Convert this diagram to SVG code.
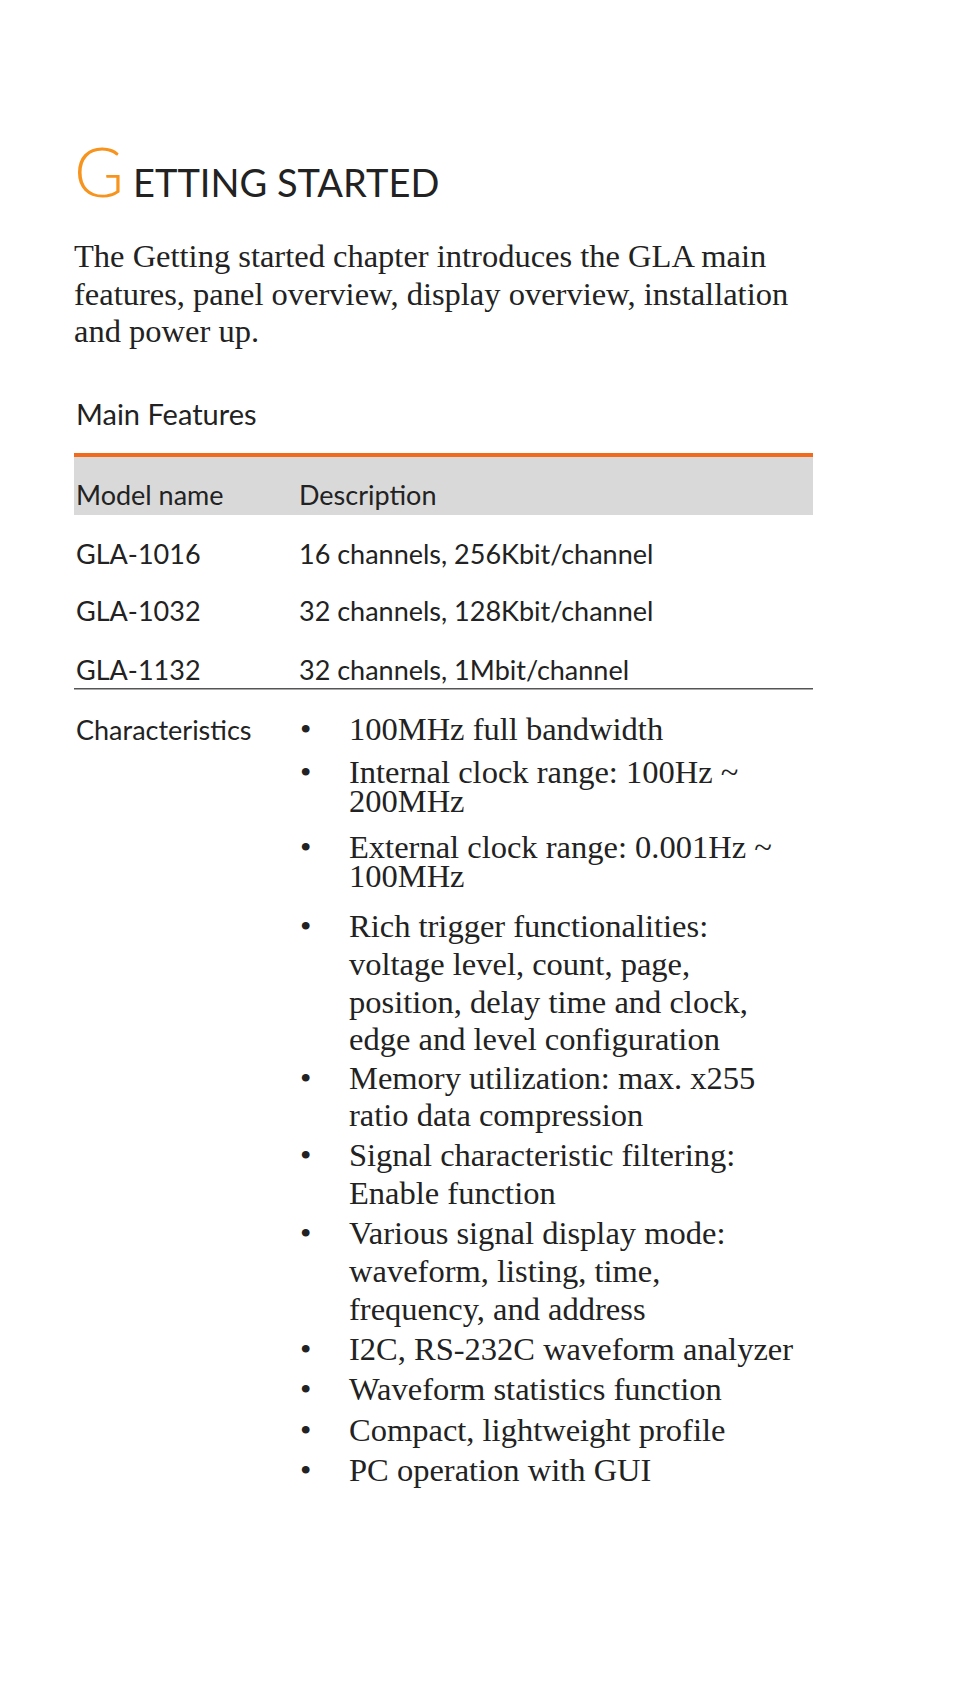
<svg xmlns="http://www.w3.org/2000/svg" width="954" height="1686" viewBox="0 0 954 1686">
<style>
.s{font-family:"Lato","Open Sans",sans-serif;fill:#222;font-size:27px}
.r{font-family:"Liberation Serif","DejaVu Serif",serif;fill:#222;font-size:32.5px}
</style>
<rect width="954" height="1686" fill="#fff"/>
<g id="title">
<text x="74" y="197" font-family="Lato,sans-serif" font-size="68" fill="#f7941d" font-weight="300">G</text>
<text x="133" y="197" class="s" style="font-size:38px">ETTING STARTED</text>
</g>
<text class="r"><tspan x="74" y="267">The Getting started chapter introduces the GLA main</tspan><tspan x="74" y="305">features, panel overview, display overview, installation</tspan><tspan x="74" y="342">and power up.</tspan></text>
<text x="76" y="425" class="s" style="font-size:29px">Main Features</text>
<rect x="74" y="453" width="739" height="4" fill="#f26b1d"/>
<rect x="74" y="457" width="739" height="58" fill="#d9d9d9"/>
<g class="s">
<text x="76" y="505">Model name</text><text x="299" y="505">Description</text>
<text x="76" y="564">GLA-1016</text><text x="299" y="564">16 channels, 256Kbit/channel</text>
<text x="76" y="621">GLA-1032</text><text x="299" y="621">32 channels, 128Kbit/channel</text>
<text x="76" y="680">GLA-1132</text><text x="299" y="680">32 channels, 1Mbit/channel</text>
<text x="76" y="740">Characteristics</text>
</g>
<rect x="74" y="688" width="739" height="1.5" fill="#555"/>
<g class="r">
<text x="300" y="740">•</text><text x="349" y="740">100MHz full bandwidth</text>
<text x="300" y="783">•</text><text x="349" y="783">Internal clock range: 100Hz ~</text><text x="349" y="812">200MHz</text>
<text x="300" y="858">•</text><text x="349" y="858">External clock range: 0.001Hz ~</text><text x="349" y="887">100MHz</text>
<text x="300" y="937">•</text><text x="349" y="937">Rich trigger functionalities:</text><text x="349" y="975">voltage level, count, page,</text><text x="349" y="1013">position, delay time and clock,</text><text x="349" y="1050">edge and level configuration</text>
<text x="300" y="1089">•</text><text x="349" y="1089">Memory utilization: max. x255</text><text x="349" y="1126">ratio data compression</text>
<text x="300" y="1166">•</text><text x="349" y="1166">Signal characteristic filtering:</text><text x="349" y="1204">Enable function</text>
<text x="300" y="1244">•</text><text x="349" y="1244">Various signal display mode:</text><text x="349" y="1282">waveform, listing, time,</text><text x="349" y="1320">frequency, and address</text>
<text x="300" y="1360">•</text><text x="349" y="1360">I2C, RS-232C waveform analyzer</text>
<text x="300" y="1400">•</text><text x="349" y="1400">Waveform statistics function</text>
<text x="300" y="1441">•</text><text x="349" y="1441">Compact, lightweight profile</text>
<text x="300" y="1481">•</text><text x="349" y="1481">PC operation with GUI</text>
</g>
</svg>
